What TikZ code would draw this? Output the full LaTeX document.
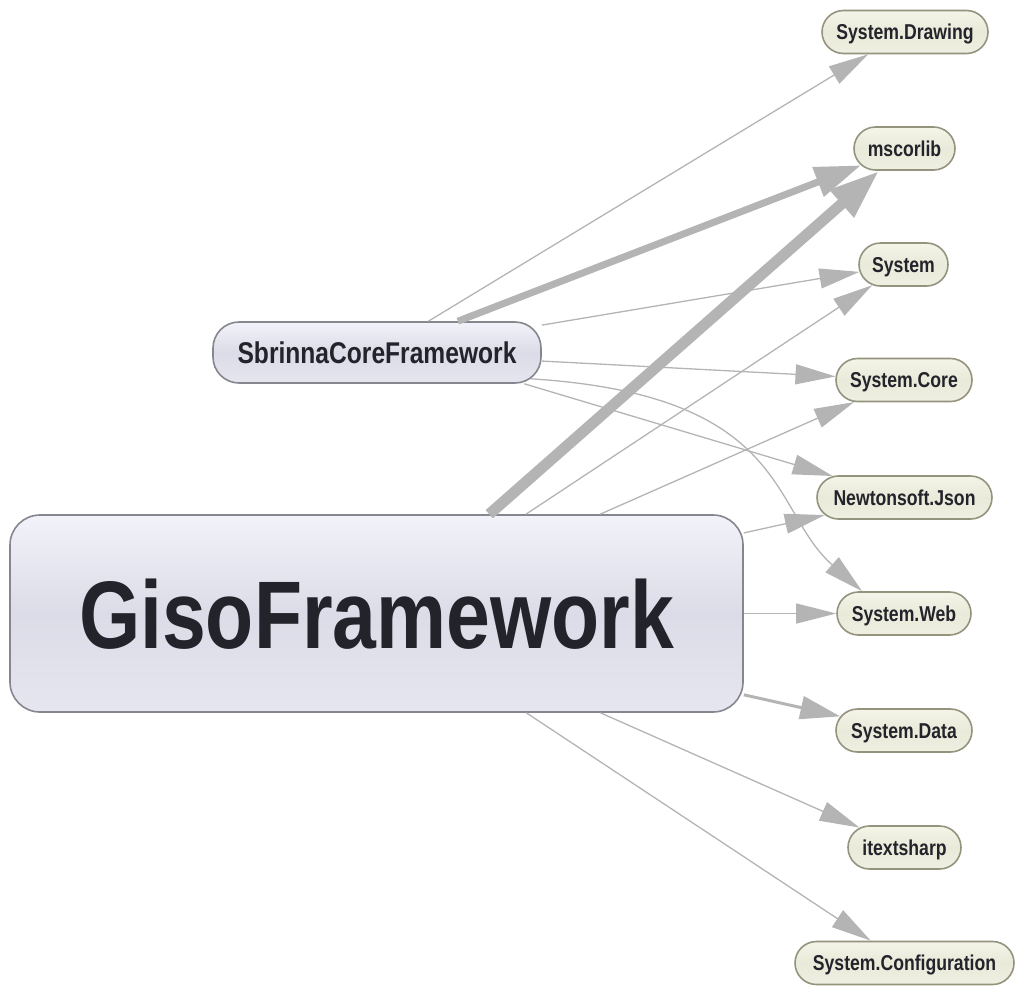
\documentclass[tikz,border=0pt]{standalone}
\usepackage{fontspec}
\setmainfont{Liberation Sans}[FakeStretch=0.82]
\usetikzlibrary{arrows.meta,shapes.misc,calc}
\definecolor{edgec}{HTML}{B4B4B4}
\definecolor{leaftop}{HTML}{F4F4E8}
\definecolor{leafmid}{HTML}{EAEADA}
\definecolor{leafbot}{HTML}{EFEFE2}
\definecolor{leafdraw}{HTML}{94947E}
\definecolor{maintop}{HTML}{F2F2FA}
\definecolor{mainmid}{HTML}{DCDCE8}
\definecolor{mainbot}{HTML}{E6E6F0}
\definecolor{maindraw}{HTML}{86868E}
\definecolor{txt}{HTML}{23232B}
\begin{document}
\begin{tikzpicture}[x=1pt,y=-1pt,
  leaf/.style={rounded rectangle, minimum height=43pt, inner sep=0pt,
    text height=15.4pt, text depth=0pt,
    top color=leaftop, bottom color=leafbot, middle color=leafmid,
    draw=leafdraw, line width=1.6pt, text=txt,
    font=\bfseries\fontsize{21.5}{24}\selectfont},
  mainbox/.style={rectangle, inner sep=0pt, text depth=0pt,
    top color=maintop, bottom color=mainbot, middle color=mainmid,
    draw=maindraw, line width=1.6pt, text=txt},
  dep/.style={draw=edgec, line width=1.3pt, -{Triangle[length=40pt,width=20pt]}},
  depmid/.style={draw=edgec, line width=3pt, -{Triangle[length=40pt,width=23pt]}},
  depthick/.style={draw=edgec, line width=7pt, -{Triangle[length=46pt,width=30pt]}},
  depheavy/.style={draw=edgec, line width=11pt, -{Triangle[length=50pt,width=34pt]}}
]
\useasboundingbox (0,0) rectangle (1024,993);

\node[leaf, minimum width=166pt] (drw) at (905,32) {System.Drawing};
\node[leaf, minimum width=101pt] (msc) at (904.5,148.5) {mscorlib};
\node[leaf, minimum width=89pt] (sys) at (903.5,264.5) {System};
\node[leaf, minimum width=136pt] (core) at (904,380) {System.Core};
\node[leaf, minimum width=175pt] (json) at (904.5,497.5) {Newtonsoft.Json};
\node[leaf, minimum width=134pt] (web) at (904,613.5) {System.Web};
\node[leaf, minimum width=136pt] (data) at (904,730.5) {System.Data};
\node[leaf, minimum width=113pt] (itx) at (904.5,847.5) {itextsharp};
\node[leaf, minimum width=219pt] (conf) at (904.5,963) {System.Configuration};

\node[mainbox, rounded corners=26pt, minimum width=328pt, minimum height=61pt,
  font=\bfseries\fontsize{30}{34}\selectfont] (sb) at (377,352.5) {SbrinnaCoreFramework};
\node[mainbox, rounded corners=30pt, minimum width=733pt, minimum height=197pt,
  font=\bfseries\fontsize{96}{100}\selectfont] (giso) at (376.5,613.5) {GisoFramework};

\coordinate (sbweb) at ($(sb.south east)+(-11,-5)$);

% SbrinnaCoreFramework dependencies
\draw[dep] (sb) -- (drw);
\draw[depthick] (sb) -- (msc);
\draw[dep] (sb) -- (sys);
\draw[dep] (sb) -- (core);
\draw[dep] (sb.-12) -- (json);
\draw[dep] (sbweb) .. controls (790,395) and (770,510) .. (web.152);

% GisoFramework dependencies
\draw[depheavy] (giso) -- (msc);
\draw[dep] (giso) -- (sys);
\draw[dep] (giso) -- (core);
\draw[dep] (giso) -- (json);
\draw[dep] (giso) -- (web);
\draw[depmid] (giso) -- (data);
\draw[dep] (giso) -- (itx);
\draw[dep] (giso) -- (conf);
\end{tikzpicture}
\end{document}
